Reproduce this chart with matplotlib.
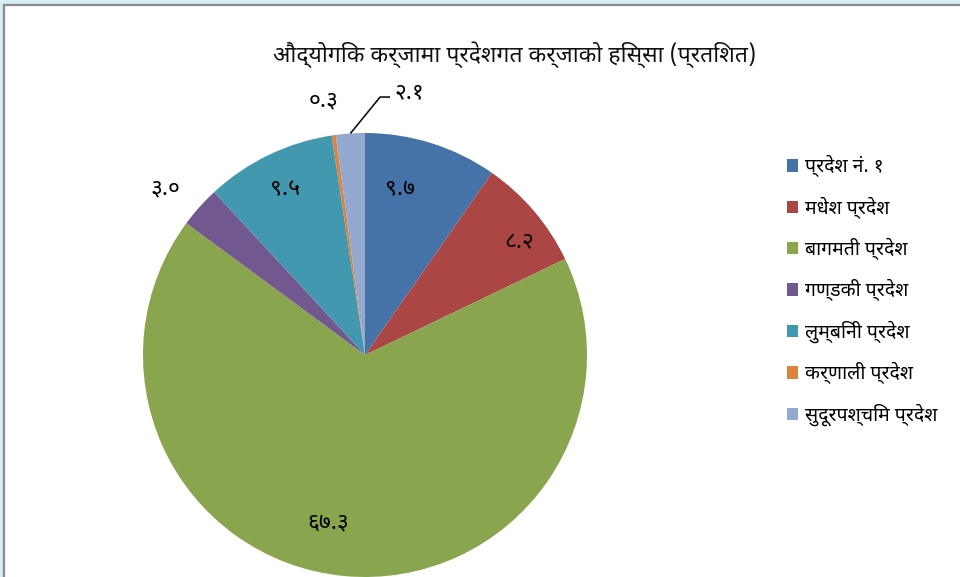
import matplotlib
matplotlib.use("Agg")
import matplotlib.pyplot as plt
from matplotlib.patches import Rectangle
import numpy as np

# ---------------- data ----------------
title = "औद्योगिक कर्जामा प्रदेशगत कर्जाको हिस्सा (प्रतिशत)"
provinces = ["प्रदेश नं. १", "मधेश प्रदेश", "बागमती प्रदेश", "गण्डकी प्रदेश",
             "लुम्बिनी प्रदेश", "कर्णाली प्रदेश", "सुदूरपश्चिम प्रदेश"]
shares = [9.7, 8.2, 67.3, 3.0, 9.5, 0.3, 2.1]
colors = ["#4572A7", "#AA4643", "#89A54E", "#71588F", "#4198AF", "#DB843D", "#93A9CF"]

DEV = str.maketrans("0123456789", "०१२३४५६७८९")
def dev(v):
    return f"{v:.1f}".translate(DEV)

FAM = ["Noto Sans Devanagari", "Hind", "Mukta", "Anek Devanagari", "DejaVu Sans"]
plt.rcParams["font.family"] = FAM

W, H = 960, 577
fig = plt.figure(figsize=(W / 100, H / 100), dpi=100, facecolor="#d6edf1")

# white chart area with grey border (right/bottom edges fall outside the image)
fig.patches.append(Rectangle((3.5 / W, -0.05), 1.1, 1.05 - 4.5 / H, transform=fig.transFigure,
                             facecolor="white", edgecolor="#8a8a8a", linewidth=1.6, zorder=-5))

cx, cy, R = 365, 355, 222
ax = fig.add_axes([(cx - R) / W, (H - cy - R) / H, 2 * R / W, 2 * R / H])
ax.set_axis_off()
ax.set_zorder(2)

wedges, _ = ax.pie(shares, colors=colors, startangle=90, counterclock=False,
                   radius=1.0, wedgeprops=dict(linewidth=0))
ax.set_xlim(-1, 1)
ax.set_ylim(-1, 1)
ax.set_aspect("equal")

# label placement (radius factor, angle tweak in degrees)
tot = sum(shares)
cum = np.cumsum([0] + shares[:-1])
place = [(0.77, -5.5), (0.86, 4), (0.77, 7), (1.17, -2), (0.83, 0), (1.16, -1.2), None]
LFS = 16.5
for i, v in enumerate(shares):
    mid = (cum[i] + v / 2) / tot * 360.0
    if place[i] is None:
        th = np.deg2rad(90 - mid)
        ex, ey = np.cos(th), np.sin(th)
        ax.plot([ex, 0.068, 0.113], [ey, 1.162, 1.162], color="black", lw=1.1,
                clip_on=False, solid_capstyle="butt")
        ax.text(0.135, 1.185, dev(v), ha="left", va="center", fontsize=LFS, clip_on=False)
        continue
    r, dth = place[i]
    th = np.deg2rad(90 - mid - dth)
    ax.text(r * np.cos(th), r * np.sin(th), dev(v), ha="center", va="center",
            fontsize=LFS, clip_on=False)

fig.text(515 / W, 1 - 55 / H, title, ha="center", va="center", fontsize=16.5, color="#111111")

leg = fig.legend(wedges, provinces, loc="upper left", bbox_to_anchor=(779 / W, 1 - 147.5 / H),
                 frameon=False, fontsize=14, handlelength=0.6, handleheight=0.6,
                 handletextpad=0.35, labelspacing=0.99, borderaxespad=0)

fig.savefig("out.png", dpi=100, facecolor=fig.get_facecolor())
